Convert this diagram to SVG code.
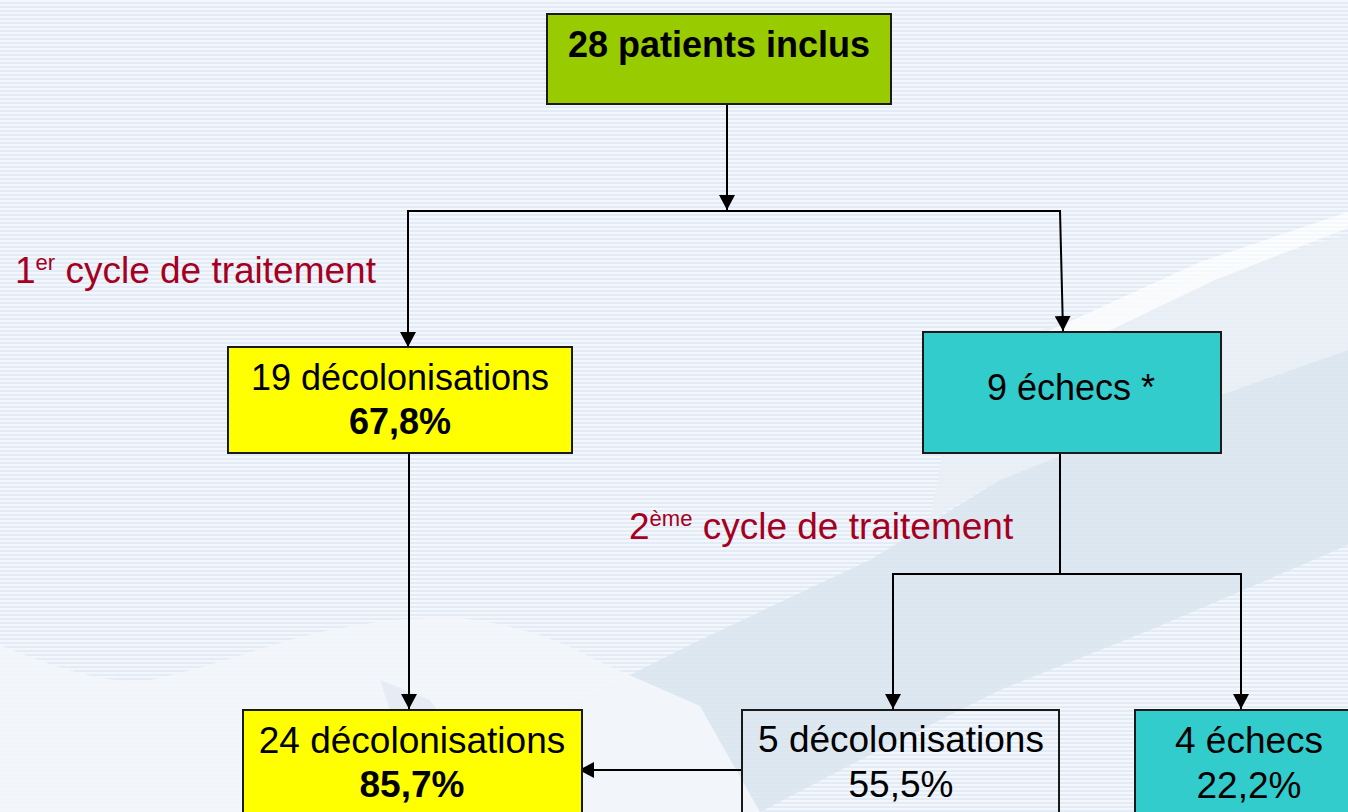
<svg xmlns="http://www.w3.org/2000/svg" width="1348" height="812" viewBox="0 0 1348 812">
<style>
.box{stroke:#1a1a1a;stroke-width:2}
.t{font-family:"Liberation Sans",Arial,sans-serif;font-size:36px;fill:#000;text-anchor:middle}
.tb{font-weight:bold}
.lbl{font-family:"Liberation Sans",Arial,sans-serif;font-size:37px;fill:#A50021}
.c{fill:none;stroke:#000;stroke-width:2}
</style>
<defs>
<pattern id="stripes" width="4" height="4" patternUnits="userSpaceOnUse">
<rect width="4" height="4" fill="#F3F7FB"/>
<rect y="2" width="4" height="2" fill="#E2EBF6"/>
</pattern>
<marker id="ah" markerUnits="userSpaceOnUse" markerWidth="16" markerHeight="16" refX="15" refY="8" orient="auto">
<path d="M0,0 L15,8 L0,16 Z" fill="#000"/>
</marker>
</defs>

<g id="background">
<rect width="1348" height="812" fill="url(#stripes)"/>
<path d="M540,720 L700,640 L870,560 L1000,480 L1150,420 L1348,350 L1348,545 L1150,630 L1000,690 L860,760 L760,812 L540,812 Z" fill="#DCE6F0" opacity="0.9"/>
<path d="M960,360 L1150,290 L1348,235 L1348,350 L1150,420 L1000,480 L930,520 Z" fill="#E9EFF6" opacity="0.85"/>
<path d="M1040,335 L1200,262 L1348,212 L1348,228 L1215,280 L1090,340 Z" fill="#FFFFFF" opacity="0.7"/>
<path d="M0,645 C60,670 110,685 150,680 C220,665 280,640 330,630 C380,620 420,617 460,618 C520,625 560,640 600,662 L700,706 L760,812 L0,812 Z" fill="#F2F5FA" opacity="0.95"/>
<path d="M380,680 L430,700 L470,760 L520,812 L440,812 L400,740 Z" fill="#E3EAF3" opacity="0.8"/>
</g>

<g id="connectors">
<path class="c" d="M727,104 V210" marker-end="url(#ah)"/>
<path class="c" d="M727,211 H408 V347" marker-end="url(#ah)"/>
<path class="c" d="M727,211 H1060 L1063,331" marker-end="url(#ah)"/>
<path class="c" d="M409,453 V709" marker-end="url(#ah)"/>
<path class="c" d="M1060,453 V574"/>
<path class="c" d="M1060,574 H893 V709" marker-end="url(#ah)"/>
<path class="c" d="M1060,574 H1241 V709" marker-end="url(#ah)"/>
<path class="c" d="M742,770 H579" marker-end="url(#ah)"/>
</g>

<g id="n-patients">
<rect class="box" x="547" y="14" width="344" height="90" fill="#99CC00"/>
<text class="t tb" x="719" y="57">28 patients inclus</text>
</g>

<g id="n-decol19">
<rect class="box" x="228" y="347" width="344" height="106" fill="#FFFF00"/>
<text class="t" x="400" y="390">19 décolonisations</text>
<text class="t tb" x="400" y="434">67,8%</text>
</g>

<g id="n-echecs9">
<rect class="box" x="923" y="332" width="298" height="121" fill="#33CCCC"/>
<text class="t" x="1071" y="400">9 échecs *</text>
</g>

<g id="n-decol24">
<rect class="box" x="243" y="710" width="339" height="130" fill="#FFFF00"/>
<text class="t" x="412" y="753" style="font-size:37px">24 décolonisations</text>
<text class="t tb" x="412" y="797" style="font-size:37px">85,7%</text>
</g>

<g id="n-decol5">
<rect class="box" x="742" y="710" width="317" height="130" fill="none"/>
<text class="t" x="901" y="752" style="font-size:37px">5 décolonisations</text>
<text class="t" x="901" y="797" style="font-size:37px">55,5%</text>
</g>

<g id="n-echecs4">
<rect class="box" x="1135" y="710" width="230" height="130" fill="#33CCCC"/>
<text class="t" x="1249" y="753" style="font-size:37px">4 échecs</text>
<text class="t" x="1249" y="798" style="font-size:37px">22,2%</text>
</g>

<g id="labels">
<text class="lbl" x="15" y="283">1<tspan font-size="22" dy="-13">er</tspan><tspan dy="13"> cycle de traitement</tspan></text>
<text class="lbl" x="629" y="539">2<tspan font-size="22" dy="-13">ème</tspan><tspan dy="13"> cycle de traitement</tspan></text>
</g>
</svg>
